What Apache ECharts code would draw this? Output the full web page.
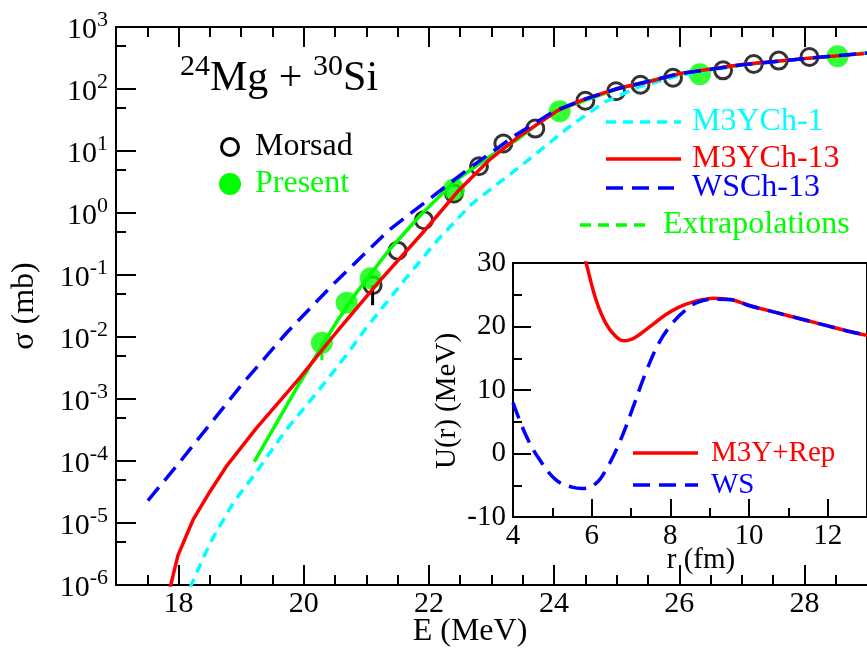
<!DOCTYPE html>
<html><head><meta charset="utf-8">
<script src="https://cdn.jsdelivr.net/npm/echarts@6/dist/echarts.min.js"></script>
<style>html,body{margin:0;padding:0;background:#fff}#c{width:867px;height:650px}</style>
</head><body><div id="c"></div>
<script>
const FONT = '"Liberation Serif","Times New Roman",serif';

// ---------- Main panel: fusion cross section sigma (mb) vs E (MeV) ----------
const xTickValues = [18, 20, 22, 24, 26, 28];
const xMinorValues = [17.5, 18.5, 19, 19.5, 20.5, 21, 21.5, 22.5, 23, 23.5, 24.5, 25, 25.5, 26.5, 27, 27.5, 28.5];
const yMinorValues = [5e-6, 5e-5, 5e-4, 5e-3, 5e-2, 5e-1, 5, 50, 500];

// Morsad data (open circles)
const morsadE     = [21.10, 21.50, 21.92, 22.40, 22.80, 23.19, 23.70, 24.50, 24.99, 25.38, 25.90, 26.70, 27.19, 27.59, 28.08];
const morsadSigma = [0.0685, 0.247, 0.766, 2.06, 5.68, 13.2, 23.0, 64.6, 91.9, 117, 152, 200, 253, 287, 328];
const morsadErrE  = [21.10];
const morsadErrLo = [0.0326];
const morsadErrC  = [0.0685];

// Present data (filled green circles)
const presentE     = [20.29, 20.686, 21.07, 22.40, 24.09, 26.33, 28.53];
const presentSigma = [0.00805, 0.0358, 0.0889, 2.39, 43.8, 173, 337];
const presentErrE  = [20.29];
const presentErrLo = [0.00424];
const presentErrC  = [0.00805];

// M3YCh-1 (cyan, short dashes)
const m3y1E     = [18.18, 18.50, 18.87, 19.19, 19.72, 20.20, 20.70, 20.99, 21.63, 22.16, 22.69, 23.38, 23.64, 24.23, 24.81, 25.34, 26.0, 27.0, 28.0, 29.0];
const m3y1Sigma = [8.9e-7, 4.7e-6, 2.1e-5, 5.6e-5, 3.2e-4, 1.23e-3, 5.4e-3, 1.37e-2, 8.8e-2, 0.388, 1.42, 4.9, 7.9, 24, 61.7, 107, 166, 245, 309, 380];

// M3YCh-13 (red, solid)
const m3y13E     = [17.85, 17.99, 18.23, 18.50, 18.76, 19.24, 19.93, 20.46, 20.57, 21.20, 21.89, 22.48, 22.96, 23.43, 24.07, 24.47, 25.0, 25.5, 26.0, 27.0, 28.0, 28.95];
const m3y13Sigma = [7.9e-7, 3.0e-6, 1.12e-5, 3.2e-5, 8.1e-5, 3.35e-4, 2.15e-3, 1.0e-2, 1.37e-2, 7.74e-2, 0.467, 2.33, 7.10, 16.9, 45.7, 67.6, 101.6, 130, 177, 248, 309, 372];

// WSCh-13 (blue, long dashes)
const wsE     = [17.51, 18.0, 19.0, 19.72, 20.5, 21.36, 22.0, 22.64, 23.38, 24.0, 24.5, 25.0, 26.0, 27.0, 28.0, 29.0];
const wsSigma = [2.3e-5, 9.1e-5, 1.66e-3, 1.15e-2, 7.6e-2, 0.528, 1.66, 5.21, 17.9, 43.7, 69.2, 100, 176, 245, 309, 380];

// Extrapolation fit (green)
const extrapE     = [19.21, 19.93, 20.51, 20.83, 21.36, 21.89, 22.43, 22.96, 23.43, 24.0, 25.0, 26.0, 27.0, 28.0, 29.0];
const extrapSigma = [9.8e-5, 1.78e-3, 1.66e-2, 5.0e-2, 0.251, 0.98, 3.38, 8.0, 15.8, 43.6, 100, 176, 246, 309, 380];

// ---------- Inset: potentials U(r) (MeV) vs r (fm) ----------
const m3yRepR = [5.80, 5.86, 6.11, 6.36, 6.62, 6.83, 7.05, 7.21, 7.54, 7.88, 8.22, 8.56, 8.90, 9.10, 9.57, 10.0, 10.5, 11.0, 11.5, 12.0, 12.5, 13.0];
const m3yRepU = [31.5, 30.0, 24.2, 20.5, 18.4, 17.75, 18.1, 18.7, 20.27, 21.85, 23.05, 23.84, 24.3, 24.45, 24.2, 23.3, 22.5, 21.7, 20.9, 20.1, 19.3, 18.6];
const wsR = [4.0, 4.34, 4.68, 5.1, 5.5, 5.77, 6.11, 6.36, 6.7, 7.03, 7.37, 7.71, 8.05, 8.39, 8.73, 9.23, 9.57, 10.0, 10.5, 11.0, 11.5, 12.0, 12.5, 13.0];
const wsU = [8.0, 2.7, -1.0, -4.2, -5.3, -5.5, -4.7, -2.6, 1.6, 6.9, 12.65, 17.4, 20.5, 22.6, 23.9, 24.3, 24.2, 23.3, 22.5, 21.7, 20.9, 20.1, 19.3, 18.6];

const pairs = (xs, ys) => xs.map((x, i) => [x, ys[i]]);
const triples = (xs, a, b) => xs.map((x, i) => [x, a[i], b[i]]);

const AX = { color: '#000', width: 2 };
function errRender(color) {
  return function (params, api) {
    const p1 = api.coord([api.value(0), api.value(1)]);
    const p2 = api.coord([api.value(0), api.value(2)]);
    return { type: 'line', shape: { x1: p1[0], y1: p1[1], x2: p2[0], y2: p2[1] }, style: { stroke: color, lineWidth: 3 } };
  };
}

const chart = echarts.init(document.getElementById('c'), null, { renderer: 'canvas' });

const option = {
  animation: false,
  backgroundColor: '#fff',
  grid: [
    { left: 116, top: 27, width: 754, height: 558, show: false },
    { left: 513, top: 263, width: 357, height: 254, show: true, backgroundColor: '#fff', borderColor: '#000', borderWidth: 2 }
  ],
  xAxis: [
    { gridIndex: 0, type: 'value', min: 17, max: 29, position: 'bottom',
      axisLine: { onZero: false, lineStyle: AX }, splitLine: { show: false },
      axisTick: { inside: true, length: 20, lineStyle: AX, customValues: xTickValues },
      axisLabel: { customValues: xTickValues, fontSize: 30, fontFamily: FONT, color: '#000', margin: 4 } },
    { gridIndex: 0, type: 'value', min: 17, max: 29, position: 'bottom',
      axisLine: { show: false, onZero: false }, splitLine: { show: false },
      axisTick: { inside: true, length: 10, lineStyle: AX, customValues: xMinorValues },
      axisLabel: { show: false } },
    { gridIndex: 0, type: 'value', min: 17, max: 29, position: 'top',
      axisLine: { onZero: false, lineStyle: AX }, splitLine: { show: false },
      axisTick: { inside: true, length: 20, lineStyle: AX, customValues: xTickValues },
      axisLabel: { show: false } },
    { gridIndex: 0, type: 'value', min: 17, max: 29, position: 'top',
      axisLine: { show: false, onZero: false }, splitLine: { show: false },
      axisTick: { inside: true, length: 10, lineStyle: AX, customValues: xMinorValues },
      axisLabel: { show: false } },
    { gridIndex: 1, type: 'value', min: 4, max: 13, interval: 2, position: 'bottom',
      axisLine: { onZero: false, lineStyle: AX }, splitLine: { show: false },
      axisTick: { inside: true, length: 18, lineStyle: AX },
      minorTick: { show: true, splitNumber: 2, length: 9, lineStyle: AX },
      axisLabel: { fontSize: 29, fontFamily: FONT, color: '#000', margin: 5, showMaxLabel: false } }
  ],
  yAxis: [
    { gridIndex: 0, type: 'log', logBase: 10, min: 1e-6, max: 1e3, position: 'left',
      axisLine: { onZero: false, lineStyle: AX }, splitLine: { show: false },
      axisTick: { inside: true, length: 20, lineStyle: AX },
      axisLabel: { margin: 8, color: '#000',
        formatter: v => '{b|10}{s|' + Math.round(Math.log10(v)) + '}',
        rich: {
          b: { fontSize: 30, fontFamily: FONT, color: '#000', verticalAlign: 'bottom', lineHeight: 36 },
          s: { fontSize: 22, fontFamily: FONT, color: '#000', verticalAlign: 'top', lineHeight: 24 }
        } } },
    { gridIndex: 0, type: 'value', min: -6, max: 3, position: 'left',
      axisLine: { show: false, onZero: false }, splitLine: { show: false },
      axisTick: { inside: true, length: 10, lineStyle: AX, customValues: yMinorValues.map(v => Math.log10(v)) },
      axisLabel: { show: false } },
    { gridIndex: 1, type: 'value', min: -10, max: 30, interval: 10, position: 'left',
      axisLine: { onZero: false, lineStyle: AX }, splitLine: { show: false },
      axisTick: { inside: true, length: 18, lineStyle: AX },
      minorTick: { show: true, splitNumber: 2, length: 9, lineStyle: AX },
      axisLabel: { fontSize: 29, fontFamily: FONT, color: '#000', margin: 7 } }
  ],
  series: [
    { name: 'Morsad', type: 'scatter', xAxisIndex: 0, yAxisIndex: 0, data: pairs(morsadE, morsadSigma),
      symbol: 'circle', symbolSize: 17, itemStyle: { color: 'rgba(0,0,0,0)', borderColor: '#000', borderWidth: 3 } },
    { name: 'Morsad err', type: 'custom', xAxisIndex: 0, yAxisIndex: 0, data: triples(morsadErrE, morsadErrC, morsadErrLo), renderItem: errRender('#000') },
    { name: 'Present err', type: 'custom', xAxisIndex: 0, yAxisIndex: 0, data: triples(presentErrE, presentErrC, presentErrLo), renderItem: errRender('#00ff00') },
    { name: 'Present', type: 'scatter', xAxisIndex: 0, yAxisIndex: 0, data: pairs(presentE, presentSigma),
      symbol: 'circle', symbolSize: 22, itemStyle: { color: '#00ff00' } },
    { name: 'M3YCh-1', type: 'line', xAxisIndex: 0, yAxisIndex: 0, data: pairs(m3y1E, m3y1Sigma), showSymbol: false,
      smooth: false, lineStyle: { color: '#00ffff', width: 3.5, type: [10, 7] } },
    { name: 'Extrapolations', type: 'line', xAxisIndex: 0, yAxisIndex: 0, data: pairs(extrapE, extrapSigma), showSymbol: false,
      smooth: false, lineStyle: { color: '#00ff00', width: 3.5 } },
    { name: 'M3YCh-13', type: 'line', xAxisIndex: 0, yAxisIndex: 0, data: pairs(m3y13E, m3y13Sigma), showSymbol: false,
      smooth: false, lineStyle: { color: '#ff0000', width: 3.5 } },
    { name: 'WSCh-13', type: 'line', xAxisIndex: 0, yAxisIndex: 0, data: pairs(wsE, wsSigma), showSymbol: false,
      smooth: false, lineStyle: { color: '#0000ff', width: 3.5, type: [17, 9] } },
    { name: 'M3Y+Rep', type: 'line', xAxisIndex: 4, yAxisIndex: 2, data: pairs(m3yRepR, m3yRepU), showSymbol: false,
      smooth: 0.4, lineStyle: { color: '#ff0000', width: 3.5 } },
    { name: 'WS', type: 'line', xAxisIndex: 4, yAxisIndex: 2, data: pairs(wsR, wsU), showSymbol: false,
      smooth: 0.4, lineStyle: { color: '#0000ff', width: 3.5, type: [17, 9] } }
  ],
  graphic: [
    { type: 'text', x: 25, y: 306, rotation: Math.PI / 2,
      style: { text: 'σ (mb)', font: '32px ' + FONT, fill: '#000', align: 'center', verticalAlign: 'middle', textAlign: 'center', textVerticalAlign: 'middle' } },
    { type: 'text', x: 470, y: 632,
      style: { text: 'E (MeV)', font: '32px ' + FONT, fill: '#000', align: 'center', verticalAlign: 'middle', textAlign: 'center', textVerticalAlign: 'middle' } },
    { type: 'text', x: 447, y: 401, rotation: Math.PI / 2,
      style: { text: 'U(r) (MeV)', font: '29px ' + FONT, fill: '#000', align: 'center', verticalAlign: 'middle', textAlign: 'center', textVerticalAlign: 'middle' } },
    { type: 'text', x: 701, y: 560,
      style: { text: 'r (fm)', font: '29px ' + FONT, fill: '#000', align: 'center', verticalAlign: 'middle', textAlign: 'center', textVerticalAlign: 'middle' } },
    { type: 'text', x: 180, y: 76,
      style: { text: '{s|24}{b|Mg + }{s|30}{b|Si}', fill: '#000', verticalAlign: 'middle', textVerticalAlign: 'middle',
        rich: {
          b: { fontSize: 42, fontFamily: FONT, fill: '#000', color: '#000', verticalAlign: 'bottom', lineHeight: 48 },
          s: { fontSize: 30, fontFamily: FONT, fill: '#000', color: '#000', verticalAlign: 'top', lineHeight: 24 }
        } } },
    { type: 'circle', shape: { cx: 230, cy: 147, r: 8.5 }, style: { fill: 'none', stroke: '#000', lineWidth: 3 } },
    { type: 'text', x: 255, y: 147, style: { text: 'Morsad', font: '32px ' + FONT, fill: '#000', verticalAlign: 'middle', textVerticalAlign: 'middle' } },
    { type: 'circle', shape: { cx: 230, cy: 184, r: 11 }, style: { fill: '#00ff00' } },
    { type: 'text', x: 255, y: 184, style: { text: 'Present', font: '32px ' + FONT, fill: '#00ff00', verticalAlign: 'middle', textVerticalAlign: 'middle' } },
    { type: 'line', shape: { x1: 606, y1: 122, x2: 681, y2: 122 }, style: { stroke: '#00ffff', lineWidth: 3.5, lineDash: [10, 7] } },
    { type: 'text', x: 692, y: 122, style: { text: 'M3YCh-1', font: '32px ' + FONT, fill: '#00ffff', verticalAlign: 'middle', textVerticalAlign: 'middle' } },
    { type: 'line', shape: { x1: 606, y1: 159, x2: 681, y2: 159 }, style: { stroke: '#ff0000', lineWidth: 3.5 } },
    { type: 'text', x: 692, y: 159, style: { text: 'M3YCh-13', font: '32px ' + FONT, fill: '#ff0000', verticalAlign: 'middle', textVerticalAlign: 'middle' } },
    { type: 'line', shape: { x1: 606, y1: 188, x2: 674, y2: 188 }, style: { stroke: '#0000ff', lineWidth: 3.5, lineDash: [17, 9] } },
    { type: 'text', x: 692, y: 188, style: { text: 'WSCh-13', font: '32px ' + FONT, fill: '#0000ff', verticalAlign: 'middle', textVerticalAlign: 'middle' } },
    { type: 'line', shape: { x1: 580, y1: 225, x2: 648, y2: 225 }, style: { stroke: '#00ff00', lineWidth: 3.5, lineDash: [11, 7] } },
    { type: 'text', x: 663, y: 225, style: { text: 'Extrapolations', font: '32px ' + FONT, fill: '#00ff00', verticalAlign: 'middle', textVerticalAlign: 'middle' } },
    { type: 'line', z: 10, shape: { x1: 633, y1: 453, x2: 698, y2: 453 }, style: { stroke: '#ff0000', lineWidth: 3.5 } },
    { type: 'text', z: 10, x: 711, y: 453, style: { text: 'M3Y+Rep', font: '29px ' + FONT, fill: '#ff0000', verticalAlign: 'middle', textVerticalAlign: 'middle' } },
    { type: 'line', z: 10, shape: { x1: 633, y1: 485, x2: 698, y2: 485 }, style: { stroke: '#0000ff', lineWidth: 3.5, lineDash: [17, 9] } },
    { type: 'text', z: 10, x: 711, y: 485, style: { text: 'WS', font: '29px ' + FONT, fill: '#0000ff', verticalAlign: 'middle', textVerticalAlign: 'middle' } }
  ]
};
chart.setOption(option);
</script></body></html>
